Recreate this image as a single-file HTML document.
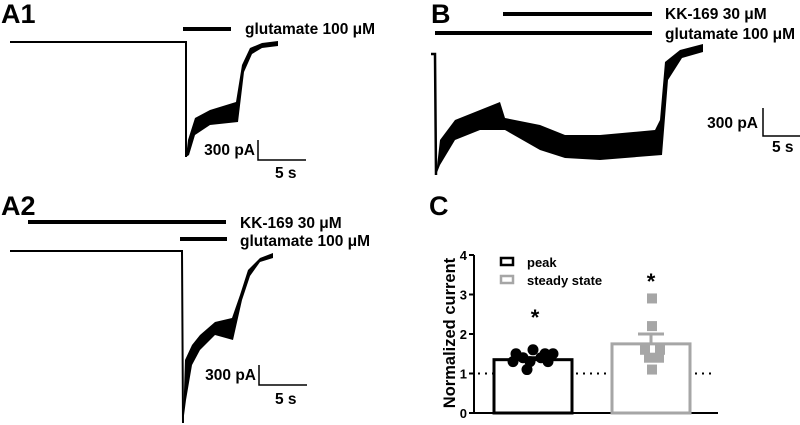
<!DOCTYPE html>
<html><head><meta charset="utf-8">
<style>
body{margin:0;background:#fff}
svg{display:block;font-family:"Liberation Sans",Arial,sans-serif;font-weight:bold}
</style></head><body>
<svg width="800" height="425" viewBox="0 0 800 425">
<text x="1" y="23" font-size="27">A1</text>
<text x="431" y="23" font-size="27">B</text>
<text x="1" y="215" font-size="27">A2</text>
<text x="429" y="215" font-size="27">C</text>

<g>
<rect x="183" y="27" width="48" height="4" fill="#000"/>
<text x="245" y="34" font-size="15.5">glutamate 100 μM</text>
<polyline points="10,42 186,42 186,157" fill="none" stroke="#000" stroke-width="2"/>
<polygon points="186,157 188,140 195,118 210,110 236,102 242,65 250,48 262,43 278,41 278,46 262,48 252,54 244,72 238,122 210,125 195,135 189,155" fill="#000"/>
<path d="M258,140 V160 H306" fill="none" stroke="#000" stroke-width="1.5"/>
<text x="255" y="155" font-size="15.5" text-anchor="end">300 pA</text>
<text x="275" y="178" font-size="15.5">5 s</text>
</g>

<g>
<rect x="28" y="220" width="198" height="4" fill="#000"/>
<rect x="180" y="237" width="47" height="4" fill="#000"/>
<text x="240" y="228" font-size="15.5">KK-169 30 μM</text>
<text x="240" y="246" font-size="15.5">glutamate 100 μM</text>
<polyline points="10,251 182,251 183,423" fill="none" stroke="#000" stroke-width="2"/>
<polygon points="183,423 185,360 192,345 200,335 215,322 232,318 240,295 248,270 260,258 273,253 273,258 260,262 250,276 242,300 233,340 215,335 200,350 192,365 186,400" fill="#000"/>
<path d="M259,365 V385 H307" fill="none" stroke="#000" stroke-width="1.5"/>
<text x="256" y="380" font-size="15.5" text-anchor="end">300 pA</text>
<text x="275" y="404" font-size="15.5">5 s</text>
</g>

<g>
<rect x="503" y="12" width="149" height="4" fill="#000"/>
<rect x="435" y="31" width="217" height="4" fill="#000"/>
<text x="665" y="19" font-size="15.5">KK-169 30 μM</text>
<text x="665" y="39" font-size="15.5">glutamate 100 μM</text>
<polyline points="431,54 435,54 436,175" fill="none" stroke="#000" stroke-width="2.5"/>
<polygon points="436,175 440,140 455,120 480,110 500,102 505,118 540,125 565,135 600,135 655,130 660,120 665,62 680,50 703,44 703,52 682,58 668,80 662,155 600,160 565,158 540,150 505,130 480,130 455,140 440,165" fill="#000"/>
<path d="M763,108 V136 H802" fill="none" stroke="#000" stroke-width="1.5"/>
<text x="758" y="128" font-size="15.5" text-anchor="end">300 pA</text>
<text x="772" y="152" font-size="15.5">5 s</text>
</g>

<g id="chartC"></g>
</svg>
<script>
const categories = ["peak", "steady state"];
const means = [1.35, 1.75];
const sems = [0.05, 0.25];
const peakPoints = [1.5, 1.6, 1.5, 1.5, 1.4, 1.4, 1.3, 1.3, 1.3, 1.1];
const steadyPoints = [2.9, 2.2, 1.6, 1.6, 1.4, 1.4, 1.1];
const yTicks = [0, 1, 2, 3, 4];
const NS = "http://www.w3.org/2000/svg";
const g = document.getElementById("chartC");
const y0 = 413, y1 = 255, ymax = 4;
function yS(v){ return y0 - (y0 - y1) * v / ymax; }
const barX = [494, 612], barW = 78;
const colors = ["#000", "#a6a6a6"];
function mk(tag, attrs){ const e = document.createElementNS(NS, tag); for (const k in attrs) e.setAttribute(k, attrs[k]); g.appendChild(e); return e; }
let ax = mk("path", {d:`M474,${yS(4)} V${y0} H718`, fill:"none", stroke:"#000", "stroke-width":2});


yTicks.forEach(t => {
  const y = yS(t);
  const tk = mk("line", {x1:469, x2:474, y1:y, y2:y, stroke:"#000", "stroke-width":2});
  
  
  const tl = mk("text", {x:467, y:y+5, "font-size":13, "text-anchor":"end"});
  tl.textContent = t;
  
  
});
const yt = mk("text", {x:0, y:0, "font-size":16.5, "text-anchor":"middle", transform:`translate(455,333) rotate(-90)`});
yt.textContent = "Normalized current";


const dl = mk("line", {x1:478, x2:716, y1:yS(1), y2:yS(1), stroke:"#000", "stroke-width":2, "stroke-dasharray":"2,5"});


means.forEach((m, i) => {
  const b = mk("rect", {x:barX[i], y:yS(m), width:barW, height:y0 - yS(m), fill:"#fff", stroke:colors[i], "stroke-width":3});
  
  
  const cx = barX[i] + barW/2;
  const e = mk("path", {d:`M${cx},${yS(m)} V${yS(m+sems[i])} M${cx-13},${yS(m+sems[i])} H${cx+13}`, stroke:colors[i], "stroke-width":3, fill:"none"});
  
  
});
const peakOff = [-17, 0, 12, 20, -10, 8, -20, 15, -3, -6];
peakPoints.forEach((v, i) => {
  const c = mk("circle", {cx:533 + peakOff[i], cy:yS(v), r:5.5, fill:"#000"});
  
  
});
const stOff = [0, 0, -7, 8, -3, 7, 0];
steadyPoints.forEach((v, i) => {
  const s = mk("rect", {x:652 + stOff[i] - 5, y:yS(v) - 5, width:10, height:10, fill:"#a6a6a6"});
  
  
});
[[535, 313], [651, 277]].forEach(([x, y]) => {
  const a = mk("text", {x:x, y:y + 12, "font-size":22, "text-anchor":"middle"});
  a.textContent = "*";
  
  
});
categories.forEach((c, i) => {
  const ly = 262 + i * 18;
  const r = mk("rect", {x:501, y:ly - 4, width:12, height:7, fill:"#fff", stroke:colors[i], "stroke-width":2.5});
  
  
  const t = mk("text", {x:527, y:ly + 5, "font-size":13});
  t.textContent = c;
  
  
});
</script>
</body></html>
